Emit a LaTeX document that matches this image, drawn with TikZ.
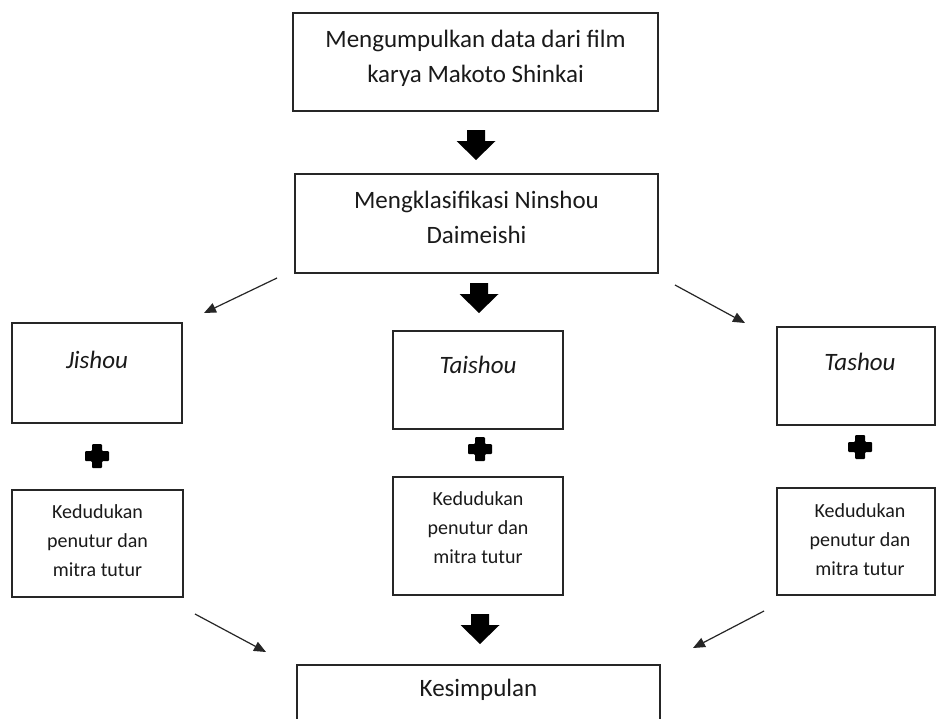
\documentclass[tikz,border=0pt]{standalone}
\usepackage{fontspec}
\setmainfont{Carlito}
\usetikzlibrary{arrows.meta}
\definecolor{ink}{HTML}{1A1A1A}
\definecolor{linecol}{HTML}{262626}
\begin{document}
\begin{tikzpicture}[x=1pt,y=-1pt,
  box/.style={draw=linecol,line width=1.4pt,inner sep=0pt,outer sep=0pt},
  bigtext/.style={font=\fontsize{25}{35}\selectfont,text=ink,align=center,inner sep=0pt,anchor=base},
  smalltext/.style={font=\fontsize{20}{29}\selectfont,text=ink,align=center,inner sep=0pt,anchor=base},
  thinarrow/.style={draw=linecol,line width=1.2pt,-{Triangle[length=12pt,width=10pt]}},
  blockarrow/.pic={\fill[black] (-9,0) -- (9,0) -- (9,11) -- (19.5,11) -- (0,30) -- (-19.5,11) -- (-9,11) -- cycle;},
  plussign/.pic={\fill[black,rounded corners=1pt] (-5,-12) -- (5,-12) -- (5,-5) -- (12,-5) -- (12,5) -- (5,5) -- (5,12) -- (-5,12) -- (-5,5) -- (-12,5) -- (-12,-5) -- (-5,-5) -- cycle;}
]
\useasboundingbox (0,0) rectangle (936,718);
\fill[white] (0,0) rectangle (936,718);

% boxes (multi-line text nodes are anchored at the baseline of their last line)
\node[box,minimum width=365pt,minimum height=98pt] (b1) at (475.5,62) {};
\node[bigtext] (b1t) at (475.5,82) {Mengumpulkan data dari film\\karya Makoto Shinkai};

\node[box,minimum width=363pt,minimum height=99pt] (b2) at (476.5,223.5) {};
\node[bigtext] (b2t) at (476.5,243) {Mengklasifikasi Ninshou\\Daimeishi};

\node[box,minimum width=170pt,minimum height=100pt] (j) at (97,373) {};
\node[bigtext] (jt) at (97,368) {\itshape Jishou};

\node[box,minimum width=170pt,minimum height=98pt] (t) at (478,380) {};
\node[bigtext] (tt) at (478,373) {\itshape Taishou};

\node[box,minimum width=158pt,minimum height=98pt] (s) at (856,376) {};
\node[bigtext] (st) at (860,370) {\itshape Tashou};

\node[box,minimum width=171pt,minimum height=107pt] (kj) at (97.5,543.5) {};
\node[smalltext] (kjt) at (97.5,576) {Kedudukan\\penutur dan\\mitra tutur};

\node[box,minimum width=170pt,minimum height=118pt] (kt) at (478,536) {};
\node[smalltext] (ktt) at (478,563) {Kedudukan\\penutur dan\\mitra tutur};

\node[box,minimum width=158pt,minimum height=107pt] (ks) at (856,541.5) {};
\node[smalltext] (kst) at (860,575) {Kedudukan\\penutur dan\\mitra tutur};

\node[box,minimum width=363pt,minimum height=80pt] (k) at (478.5,705) {};
\node[bigtext] (kt2) at (478.5,696) {Kesimpulan};

% block arrows
\pic (a1) at (476,130) {blockarrow};
\pic (a2) at (479,283) {blockarrow};
\pic (a3) at (480,614) {blockarrow};

% plus signs
\pic (pj) at (97,456) {plussign};
\pic (pt) at (480,449) {plussign};
\pic (ps) at (860,447) {plussign};

% thin arrows
\coordinate (l1s) at (277,278);
\coordinate (l1e) at (204,313);
\coordinate (r1s) at (675,285);
\coordinate (r1e) at (745,323);
\coordinate (l2s) at (195,614);
\coordinate (l2e) at (266,652);
\coordinate (r2s) at (764,611);
\coordinate (r2e) at (693,648);
\draw[thinarrow] (l1s) -- (l1e);
\draw[thinarrow] (r1s) -- (r1e);
\draw[thinarrow] (l2s) -- (l2e);
\draw[thinarrow] (r2s) -- (r2e);
\end{tikzpicture}
\end{document}
